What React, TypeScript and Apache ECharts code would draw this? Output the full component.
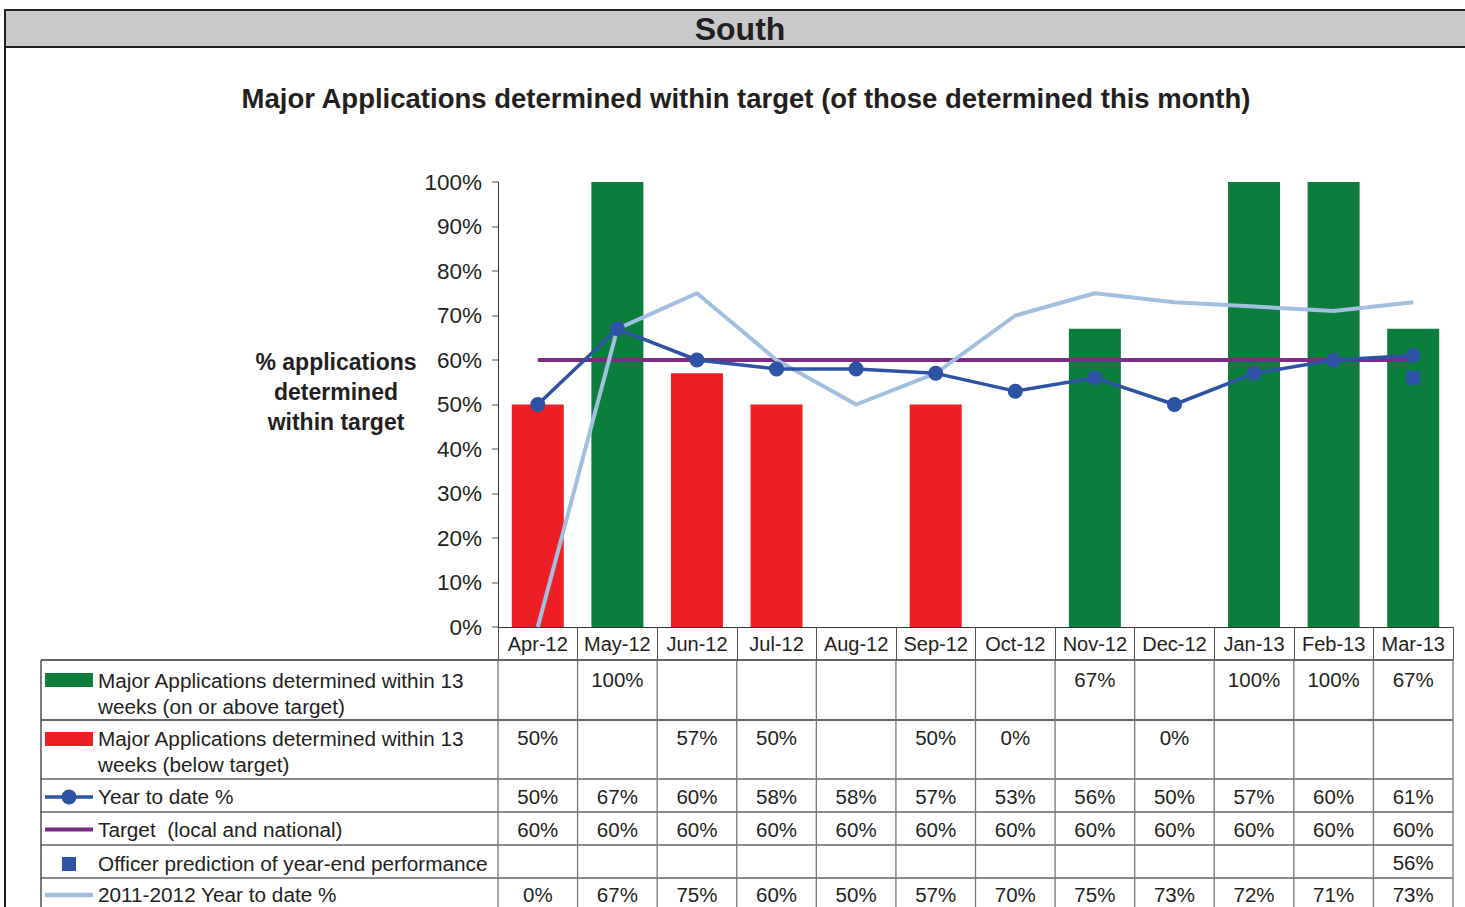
import React, { useEffect, useRef } from "react";
import * as echarts from "echarts";

const categories = ["Apr-12", "May-12", "Jun-12", "Jul-12", "Aug-12", "Sep-12", "Oct-12", "Nov-12", "Dec-12", "Jan-13", "Feb-13", "Mar-13"];
const onTarget: (number | null)[] = [null, 100, null, null, null, null, null, 67, null, 100, 100, 67];
const belowTarget: (number | null)[] = [50, null, 57, 50, null, 50, 0, null, 0, null, null, null];
const yearToDate: (number | null)[] = [50, 67, 60, 58, 58, 57, 53, 56, 50, 57, 60, 61];
const targetValues: (number | null)[] = [60, 60, 60, 60, 60, 60, 60, 60, 60, 60, 60, 60];
const prediction: (number | null)[] = [null, null, null, null, null, null, null, null, null, null, null, 56];
const prevYearToDate: (number | null)[] = [0, 67, 75, 60, 50, 57, 70, 75, 73, 72, 71, 73];

const seriesNames = [
  "Major Applications determined within 13\nweeks (on or above target)",
  "Major Applications determined within 13\nweeks (below target)",
  "Year to date %",
  "Target  (local and national)",
  "Officer prediction of year-end performance",
  "2011-2012 Year to date %",
];

const FONT = "'Liberation Sans', Arial, Helvetica, sans-serif";
const TXT = "#231f20";
const GREEN = "#0b7e3e";
const RED = "#ed1f24";
const BLUE = "#2f53a4";
const PURPLE = "#7a2b84";
const LIGHT = "#a3bfe0";

export default function App() {
  const ref = useRef<HTMLDivElement>(null);

  useEffect(() => {
    if (!ref.current) return;
    const chart = echarts.init(ref.current, null, { renderer: "svg" });

    const gridLeft = 498;
    const gridTop = 182;
    const gridWidth = 955;
    const gridHeight = 445;

    chart.setOption({
      animation: false,
      backgroundColor: "#ffffff",
      textStyle: { fontFamily: FONT },
      title: {
        text: "Major Applications determined within target (of those determined this month)",
        left: 741,
        top: 77,
        textAlign: "center",
        textStyle: { fontFamily: FONT, fontSize: 27.5, fontWeight: "bold", color: TXT, lineHeight: 32 },
      },
      grid: { left: gridLeft, top: gridTop, width: gridWidth, height: gridHeight, containLabel: false },
      xAxis: {
        type: "category",
        data: categories,
        boundaryGap: true,
        axisLine: { show: true, lineStyle: { color: "#333", width: 1 } },
        axisTick: { show: true, length: 33, lineStyle: { color: "#555", width: 1 } },
        axisLabel: { fontFamily: FONT, fontSize: 20, color: TXT, margin: 7, interval: 0 },
        splitLine: { show: false },
      },
      yAxis: {
        type: "value",
        min: 0,
        max: 100,
        interval: 10,
        axisLine: { show: true, lineStyle: { color: "#333", width: 1 } },
        axisTick: { show: true, length: 6, lineStyle: { color: "#888", width: 1.5 } },
        axisLabel: { fontFamily: FONT, fontSize: 22.5, color: TXT, margin: 16, formatter: "{value}%" },
        splitLine: { show: false },
      },
      series: [
        {
          name: seriesNames[0],
          type: "bar",
          data: onTarget,
          barWidth: 52,
          barGap: "-100%",
          itemStyle: { color: GREEN },
          z: 1,
        },
        {
          name: seriesNames[1],
          type: "bar",
          data: belowTarget,
          barWidth: 52,
          barGap: "-100%",
          itemStyle: { color: RED },
          z: 1,
        },
        {
          name: seriesNames[3],
          type: "line",
          data: targetValues,
          symbol: "none",
          lineStyle: { color: PURPLE, width: 4 },
          z: 3,
        },
        {
          name: seriesNames[5],
          type: "line",
          data: prevYearToDate,
          symbol: "none",
          lineStyle: { color: LIGHT, width: 4 },
          z: 4,
        },
        {
          name: seriesNames[2],
          type: "line",
          data: yearToDate,
          symbol: "circle",
          symbolSize: 15,
          itemStyle: { color: BLUE },
          lineStyle: { color: BLUE, width: 3.5 },
          z: 5,
        },
        {
          name: seriesNames[4],
          type: "line",
          data: prediction,
          symbol: "rect",
          symbolSize: 14,
          itemStyle: { color: BLUE },
          lineStyle: { width: 0 },
          z: 6,
        },
      ],
    });

    // Build table from axis positions
    const centers = categories.map((c, i) => chart.convertToPixel({ xAxisIndex: 0 }, i) as number);
    const band = centers.length > 1 ? centers[1] - centers[0] : gridWidth;
    const bounds = [centers[0] - band / 2, ...centers.map((c) => c + band / 2)];
    const rightEdge = bounds[bounds.length - 1];

    const tableLeft = 41;
    const rowTops = [660, 720, 779, 812, 845, 878];
    const tableBottom = 920;
    const valueY = [679, 737, 796, 829, 862, 894];
    const labelTopY = [667, 725, 783, 816, 850, 881];

    const rows: (number | null)[][] = [onTarget, belowTarget, yearToDate, targetValues, prediction, prevYearToDate];

    const g: any[] = [];

    // header band
    g.push({
      type: "rect",
      shape: { x: 5, y: 10, width: 1500, height: 37 },
      style: { fill: "#c8c9cb", stroke: "#231f20", lineWidth: 2 },
      z: 10,
    });
    g.push({
      type: "text",
      x: 740,
      y: 29,
      style: { text: "South", fontFamily: FONT, fontSize: 32, fontWeight: "bold", fill: TXT, textAlign: "center", textVerticalAlign: "middle" },
      z: 11,
    });
    // left frame border
    g.push({ type: "line", shape: { x1: 5, y1: 47, x2: 5, y2: 920 }, style: { stroke: "#231f20", lineWidth: 2 }, z: 10 });

    // y-axis title
    g.push({
      type: "text",
      x: 336,
      y: 392,
      style: {
        text: "% applications\ndetermined\nwithin target",
        fontFamily: FONT,
        fontSize: 23,
        fontWeight: "bold",
        fill: TXT,
        textAlign: "center",
        textVerticalAlign: "middle",
        lineHeight: 30,
      },
      z: 10,
    });

    // table horizontal lines
    rowTops.forEach((y, i) => {
      g.push({
        type: "line",
        shape: { x1: tableLeft, y1: y, x2: rightEdge, y2: y },
        style: { stroke: i < 2 ? "#333" : "#666", lineWidth: 1.3 },
        z: 10,
      });
    });
    // verticals
    g.push({ type: "line", shape: { x1: tableLeft, y1: rowTops[0], x2: tableLeft, y2: tableBottom }, style: { stroke: "#333", lineWidth: 1.3 }, z: 10 });
    bounds.forEach((x) => {
      g.push({ type: "line", shape: { x1: x, y1: rowTops[0], x2: x, y2: tableBottom }, style: { stroke: "#777", lineWidth: 1.3 }, z: 10 });
    });

    // values
    rows.forEach((arr, r) => {
      arr.forEach((v, i) => {
        if (v === null || v === undefined) return;
        g.push({
          type: "text",
          x: centers[i],
          y: valueY[r],
          style: { text: `${v}%`, fontFamily: FONT, fontSize: 20.5, fill: TXT, textAlign: "center", textVerticalAlign: "middle" },
          z: 11,
        });
      });
    });

    // legend labels
    seriesNames.forEach((name, r) => {
      g.push({
        type: "text",
        x: 98,
        y: labelTopY[r],
        style: { text: name, fontFamily: FONT, fontSize: 20.75, fill: TXT, textAlign: "left", textVerticalAlign: "top", lineHeight: 26 },
        z: 11,
      });
    });

    // legend symbols
    g.push({ type: "rect", shape: { x: 45, y: 673, width: 48, height: 14 }, style: { fill: GREEN }, z: 11 });
    g.push({ type: "rect", shape: { x: 45, y: 732, width: 48, height: 14 }, style: { fill: RED }, z: 11 });
    g.push({ type: "line", shape: { x1: 45, y1: 797, x2: 93, y2: 797 }, style: { stroke: BLUE, lineWidth: 3.5 }, z: 11 });
    g.push({ type: "circle", shape: { cx: 69, cy: 797, r: 7.5 }, style: { fill: BLUE }, z: 12 });
    g.push({ type: "line", shape: { x1: 45, y1: 829.5, x2: 93, y2: 829.5 }, style: { stroke: PURPLE, lineWidth: 4 }, z: 11 });
    g.push({ type: "rect", shape: { x: 62, y: 857, width: 14, height: 14 }, style: { fill: BLUE }, z: 11 });
    g.push({ type: "line", shape: { x1: 45, y1: 895, x2: 93, y2: 895 }, style: { stroke: LIGHT, lineWidth: 4.5 }, z: 11 });

    chart.setOption({ graphic: { elements: g } });

    return () => {
      chart.dispose();
    };
  }, []);

  return (
    <div
      ref={ref}
      style={{ position: "fixed", left: 0, top: 0, width: 1465, height: 907, background: "#fff" }}
    />
  );
}
